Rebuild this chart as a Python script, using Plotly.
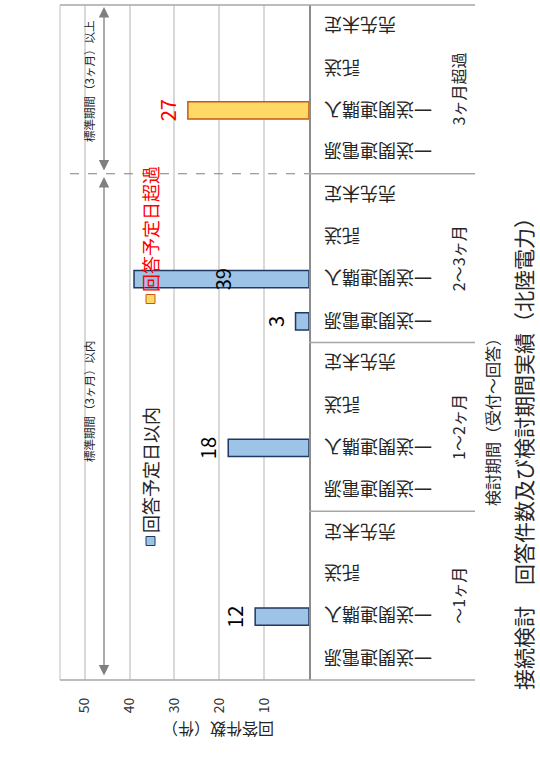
import plotly.graph_objects as go

# 検討期間の区分（下から上へ）と案件種別（区分内で下から上へ）
periods = ["〜1ヶ月", "1〜2ヶ月", "2〜3ヶ月", "3ヶ月超過"]
kinds = ["一送関連電源", "一送関連購入", "託送", "売先未定"]

# 回答件数（区分ごと、種別の順）
within_counts = [[0, 12, 0, 0], [0, 18, 0, 0], [3, 39, 0, 0], [0, 0, 0, 0]]
over_counts = [[0, 0, 0, 0], [0, 0, 0, 0], [0, 0, 0, 0], [0, 27, 0, 0]]

value_ticks = [10, 20, 30, 40, 50]

W, H = 540, 763
X0, X1 = 60, 309   # plot area in pixels
Y0, Y1 = 5, 680
FONT = "Noto Sans CJK JP"


def px(x):
    return (x - X0) / (X1 - X0)


def py(y):
    return (Y1 - y) / (Y1 - Y0)


def slot(g, k):
    return g * len(kinds) + k


fig = go.Figure()

for counts, name, fill, edge in [
    (within_counts, "回答予定日以内", "#9dc3e6", "#1f3864"),
    (over_counts, "回答予定日超過", "#ffd966", "#c55a11"),
]:
    xs, ys = [], []
    for g, row in enumerate(counts):
        for k, v in enumerate(row):
            if v:
                xs.append(v)
                ys.append(slot(g, k))
    fig.add_trace(go.Bar(x=xs, y=ys, orientation="h", name=name, width=0.41,
                         marker=dict(color=fill, line=dict(color=edge, width=1.5))))

annotations = []


def note(text, x, y, size, angle=-90, color="#262626", xref="paper", yref="paper",
         xanchor="center", yanchor="middle", **kw):
    annotations.append(dict(text=text, x=x, y=y, xref=xref, yref=yref, showarrow=False,
                            xanchor=xanchor, yanchor=yanchor, textangle=angle,
                            font=dict(family=FONT, size=size, color=color), **kw))


# 値ラベル
for counts, color in [(within_counts, "#000000"), (over_counts, "#ff0000")]:
    for g, row in enumerate(counts):
        for k, v in enumerate(row):
            if not v:
                continue
            shift = 88 if v == 39 else -20
            note(str(v), v, slot(g, k), 20, color=color, xref="x", yref="y", xshift=shift)

# 種別ラベル（逆さ）と期間ラベル
for g, p in enumerate(periods):
    for k, name in enumerate(kinds):
        note(name, px(322), slot(g, k), 18, angle=180, yref="y", xanchor="left")
    note(p, px(458), slot(g, 1.5), 16, yref="y")

note("回答件数（件）", px(218), py(730), 16, angle=180)
note("検討期間（受付〜回答）", px(492), py(418), 16)
note("接続検討　回答件数及び検討期間実績（北陸電力）", px(523), py(449), 21)

# 凡例
note("回答予定日以内", px(150), py(535), 18, yanchor="bottom")
note("回答予定日超過", px(150), py(294), 18, color="#ff0000", yanchor="bottom")

# 標準期間
note("標準期間（3ヶ月）以上", px(89), py(82), 11.5)
note("標準期間（3ヶ月）以内", px(89), py(402), 11.5)
for tip, length in [(7, 165), (177, 500)]:
    annotations.append(dict(text="", x=px(104), y=py(tip), xref="paper", yref="paper",
                            ax=0, ay=length, showarrow=True, arrowside="end+start",
                            arrowhead=2, arrowsize=1.6, arrowwidth=1.3, arrowcolor="#7f7f7f"))

grey = "#a6a6a6"
shapes = [
    dict(type="line", xref="paper", yref="paper", x0=0, x1=px(475), y0=1, y1=1,
         line=dict(color=grey, width=1.5)),
    dict(type="line", xref="paper", yref="paper", x0=0, x1=px(475), y0=0, y1=0,
         line=dict(color=grey, width=1.5)),
    dict(type="line", xref="paper", yref="paper", x0=0, x1=0, y0=0, y1=1,
         line=dict(color="#bfbfbf", width=1)),
]
for g in range(1, len(periods)):
    yb = slot(g, -0.5)
    shapes.append(dict(type="line", xref="paper", yref="y", x0=1, x1=px(475), y0=yb, y1=yb,
                       line=dict(color=grey, width=1.5)))
yb = slot(3, -0.5)
shapes.append(dict(type="line", xref="paper", yref="y", x0=px(70), x1=1, y0=yb, y1=yb,
                   line=dict(color="#7f7f7f", width=1, dash="dash")))
# 凡例の四角
for y_c, fill, edge in [(541, "#9dc3e6", "#1f3864"), (299, "#ffd966", "#c55a11")]:
    shapes.append(dict(type="rect", xref="paper", yref="paper",
                       x0=px(146), x1=px(155), y0=py(y_c + 4.5), y1=py(y_c - 4.5),
                       fillcolor=fill, line=dict(color=edge, width=1)))

fig.update_layout(
    width=W, height=H,
    margin=dict(l=X0, r=W - X1, t=Y0, b=H - Y1),
    plot_bgcolor="white", paper_bgcolor="white",
    barmode="overlay", showlegend=False,
    font=dict(family=FONT),
    annotations=annotations, shapes=shapes,
)
fig.update_xaxes(range=[55.5, 0], tickvals=value_ticks, tickangle=-90,
                 showgrid=True, gridcolor="#d9d9d9", gridwidth=1.5, zeroline=False,
                 showline=False, ticks="", ticklabelstandoff=14,
                 tickfont=dict(size=14, color="#333333"))
fig.update_yaxes(range=[-0.5, 15.5], showticklabels=False, showgrid=False, zeroline=False,
                 side="right", showline=True, linecolor="#8c8c8c", linewidth=2)

fig.write_html("out.html", config={"displayModeBar": False},
               post_script="document.body.style.margin='0';")
